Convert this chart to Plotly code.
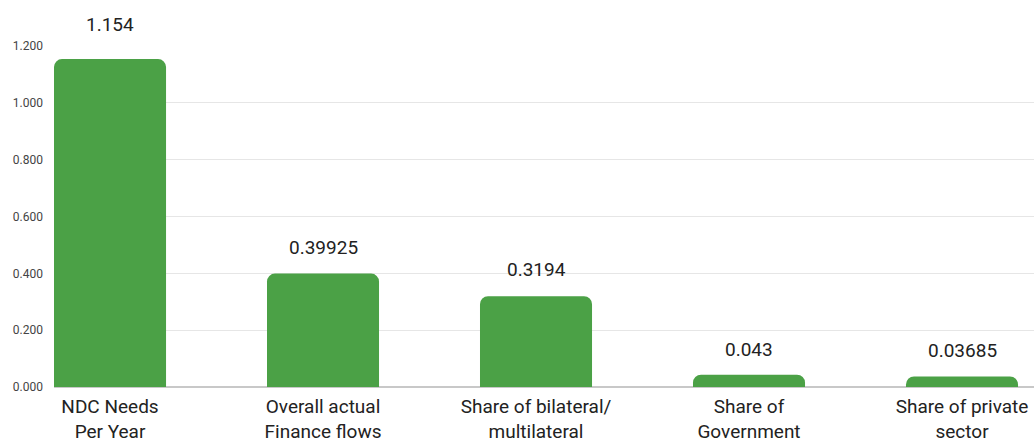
import plotly.graph_objects as go

categories = ["NDC Needs<br>Per Year", "Overall actual<br>Finance flows", "Share of bilateral/<br>multilateral",
              "Share of<br>Government", "Share of private<br>sector"]
values = [1.154, 0.39925, 0.3194, 0.043, 0.03685]
value_labels = ["1.154", "0.39925", "0.3194", "0.043", "0.03685"]
y_ticks = [0, 0.2, 0.4, 0.6, 0.8, 1.0, 1.2]

# styling: pixel offset of each value label centre above its bar
label_shift = [35, 26, 27, 25, 26]

xs = list(range(len(categories)))
BAR = "#4ba146"

fig = go.Figure()
fig.add_trace(go.Bar(x=xs, y=values, width=0.526, marker=dict(color=BAR, line=dict(width=0), cornerradius=8),
                     hoverinfo="skip"))
for x, v, t, s in zip(xs, values, value_labels, label_shift):
    fig.add_annotation(x=x, y=v, text=t, showarrow=False, yanchor="middle", yshift=s,
                       font=dict(family="Roboto", size=19, color="#222"))

fig.update_layout(
    width=1034, height=442, margin=dict(l=54, r=0, t=46, b=55),
    plot_bgcolor="white", paper_bgcolor="white", showlegend=False,
    font=dict(family="Roboto"),
)
fig.update_xaxes(range=[-0.263, 4.338], tickmode="array", tickvals=xs, ticktext=categories,
                 tickfont=dict(family="Roboto", size=19, color="#222"), showgrid=False, zeroline=False,
                 showline=False, ticks="", ticklabelstandoff=6, automargin=False)
fig.update_yaxes(range=[0, 1.2], tickmode="array", tickvals=y_ticks, automargin=False,
                 ticktext=[f"{v:.3f}" for v in y_ticks], tickfont=dict(family="Roboto", size=12, color="#444"),
                 showgrid=True, gridcolor="#e6e6e6", gridwidth=1, zeroline=True, zerolinecolor="#c8c8c8",
                 zerolinewidth=1.5, ticks="", ticklabelstandoff=10)
fig.write_html("out.html")
